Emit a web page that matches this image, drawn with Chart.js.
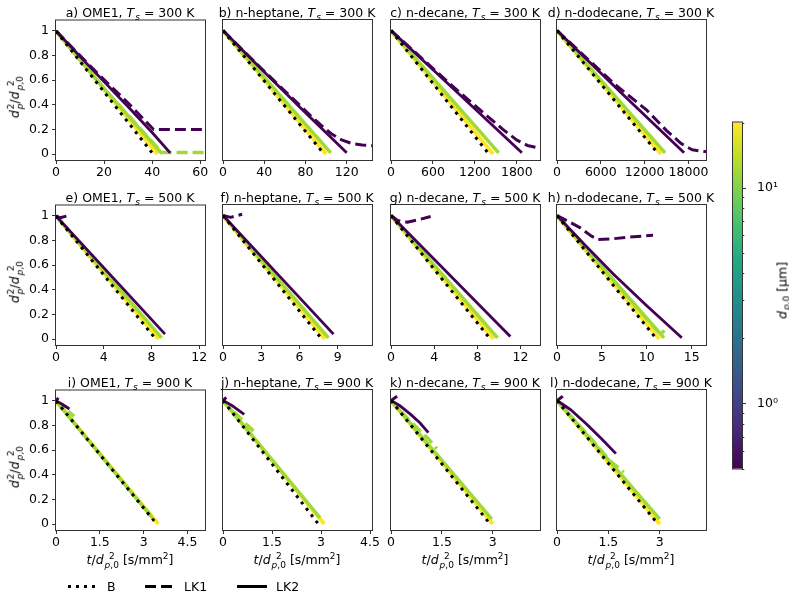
<!DOCTYPE html>
<html>
<head>
<meta charset="utf-8">
<script src="https://cdn.jsdelivr.net/npm/chart.js@4.4.1/dist/chart.umd.min.js"></script>
<style>
  body { margin: 0; background: #fff; width: 789px; height: 592px; position: relative; overflow: hidden;
         font-family: "DejaVu Sans", sans-serif; color: #000; }
  canvas { position: absolute; }
  .txt { position: absolute; font-size: 12.5px; line-height: 13px; white-space: nowrap; }
  .ctr { width: 240px; text-align: center; }
  .rot { transform-origin: center center; transform: rotate(-90deg); }
  .ss { display: inline-flex; flex-direction: column; font-size: 72%; line-height: 1.02; vertical-align: 0.5em; margin-left: 1px; }
  .sb1 { position: relative; top: 0.3em; font-size: 72%; margin-left: 1px; }
  .sp1 { position: relative; top: -0.45em; font-size: 72%; }
</style>
</head>
<body>
<script>
// ---- data ----
const panelLetters = ['a', 'b', 'c', 'd', 'e', 'f', 'g', 'h', 'i', 'j', 'k', 'l'];
const fuels = ['OME1', 'n-heptane', 'n-decane', 'n-dodecane'];
const surfaceTemps = [300, 500, 900];
const xMax = [62, 144.5, 2131, 20400, 12.48, 11.68, 13.8, 16.6, 5.1, 4.56, 4.39, 4.35];
const xTicks = [
  [0, 20, 40, 60], [0, 40, 80, 120], [0, 600, 1200, 1800], [0, 6000, 12000, 18000],
  [0, 4, 8, 12], [0, 3, 6, 9], [0, 4, 8, 12], [0, 5, 10, 15],
  [0, 1.5, 3, 4.5], [0, 1.5, 3, 4.5], [0, 1.5, 3], [0, 1.5, 3]
];
const yTicks = [0, 0.2, 0.4, 0.6, 0.8, 1];

// colour per initial diameter d_p,0 = 0.5, 10, 20 µm
const lineColors = ['#440154', '#a0da39', '#fde725'];

// colourbar
const cbarMin = 0.5;
const cbarMax = 20;
const cbarTicks = [0.5, 0.6, 0.7, 0.8, 0.9, 1, 2, 3, 4, 5, 6, 7, 8, 9, 10, 20];

// series: [t/d², d²/d0²]  -- _05 purple, _10 green, _20 yellow
// a) OME1, 300 K
const a_B = [[0, 1], [40.4, 0]];
const a_LK2_20 = [[0, 1], [42.2, 0]];
const a_LK2_10 = [[0, 1], [21, 0.51], [44, 0.005]];
const a_LK1_10 = [[0, 1], [21, 0.51], [44, 0.013], [62, 0.013]];
const a_LK2_05 = [[0, 1], [15, 0.69], [30, 0.385], [40, 0.175], [47.5, 0.01]];
const a_LK1_05 = [[0, 1], [15, 0.7], [30, 0.415], [40.6, 0.2], [62, 0.2]];
// b) n-heptane, 300 K
const b_B = [[0, 1], [98, 0]];
const b_LK2_20 = [[0, 1], [100, 0]];
const b_LK2_10 = [[0, 1], [104.5, 0.01]];
const b_LK1_10 = null;
const b_LK2_05 = [[0, 1], [40, 0.665], [80, 0.335], [120, 0.01]];
const b_LK1_05 = [[0, 1], [40, 0.67], [70, 0.43], [85, 0.31], [95, 0.235], [105, 0.165], [115, 0.115], [125, 0.085], [135, 0.073], [144.5, 0.068]];
// c) n-decane, 300 K
const c_B = [[0, 1], [1400, 0]];
const c_LK2_20 = [[0, 1], [1460, 0]];
const c_LK2_10 = [[0, 1], [1540, 0.01]];
const c_LK1_10 = null;
const c_LK2_05 = [[0, 1], [900, 0.525], [1872, 0.01]];
const c_LK1_05 = [[0, 1], [900, 0.54], [1278, 0.355], [1600, 0.2], [1800, 0.113], [1950, 0.07], [2131, 0.046]];
// d) n-dodecane, 300 K
const d_B = [[0, 1], [13900, 0]];
const d_LK2_20 = [[0, 1], [14250, 0]];
const d_LK2_10 = [[0, 1], [14800, 0.01]];
const d_LK1_10 = null;
const d_LK2_05 = [[0, 1], [8700, 0.5], [17400, 0.01]];
const d_LK1_05 = [[0, 1], [8000, 0.56], [12300, 0.355], [15000, 0.19], [17000, 0.085], [18500, 0.035], [20400, 0.019]];
// e) OME1, 500 K
const e_B = [[0, 1], [8.35, 0]];
const e_LK2_20 = [[0, 1], [8.6, 0]];
const e_LK2_10 = [[0, 1], [8.85, 0.01]];
const e_LK1_10 = null;
const e_LK2_05 = [[0, 1], [9.13, 0.04]];
const e_LK1_05 = [[0, 1], [0.35, 0.985], [0.9, 1.0]];
// f) n-heptane, 500 K
const f_B = [[0, 1], [7.75, 0]];
const f_LK2_20 = [[0, 1], [8.0, 0]];
const f_LK2_10 = [[0, 1], [8.27, 0.01]];
const f_LK1_10 = null;
const f_LK2_05 = [[0, 1], [8.66, 0.04]];
const f_LK1_05 = [[0, 1], [0.6, 0.985], [1.5, 1.01]];
// g) n-decane, 500 K
const g_B = [[0, 1], [9.2, 0]];
const g_LK2_20 = [[0, 1], [9.5, 0]];
const g_LK2_10 = [[0, 1], [9.87, 0.01]];
const g_LK1_10 = null;
const g_LK2_05 = [[0, 1], [11.05, 0.02]];
const g_LK1_05 = [[0, 1], [0.6, 0.96], [1.5, 0.946], [2.5, 0.965], [3.67, 0.992]];
// h) n-dodecane, 500 K
const h_B = [[0, 1], [11.1, 0]];
const h_LK2_20 = [[0, 1], [11.4, 0]];
const h_LK2_10 = [[0, 1], [11.92, 0.01]];
const h_LK1_10 = [[0, 1], [11.55, 0.035], [11.95, 0.07]];
const h_LK2_05 = [[0, 1], [3, 0.77], [6.3, 0.525], [10, 0.27], [13.9, 0.01]];
const h_LK1_05 = [[0, 1], [1.2, 0.955], [2.6, 0.9], [3.8, 0.835], [4.6, 0.805], [6, 0.81], [8, 0.825], [10.7, 0.84]];
// i) OME1, 900 K
const i_B = [[0, 1], [3.45, 0]];
const i_LK2_20 = [[0, 1], [3.5, 0]];
const i_LK2_10 = [[0, 1], [3.3, 0.05]];
const i_LK1_10 = [[0, 1], [0.62, 0.875]];
const i_LK2_05 = [[0, 1], [0.2, 0.975], [0.46, 0.935]];
const i_LK1_05 = [[0, 1], [0.08, 1.025]];
// j) n-heptane, 900 K
const j_B = [[0, 1], [2.92, 0]];
const j_LK2_20 = [[0, 1], [3.1, 0]];
const j_LK2_10 = [[0, 1], [2.97, 0.05]];
const j_LK1_10 = [[0, 1], [0.7, 0.81], [0.95, 0.75]];
const j_LK2_05 = [[0, 1], [0.3, 0.955], [0.65, 0.887]];
const j_LK1_05 = [[0, 1], [0.1, 1.025]];
// k) n-decane, 900 K
const k_B = [[0, 1], [2.92, 0]];
const k_LK2_20 = [[0, 1], [3.0, 0]];
const k_LK2_10 = [[0, 1], [2.97, 0.04]];
const k_LK1_10 = [[0, 1], [0.5, 0.85], [1.1, 0.69], [1.35, 0.61]];
const k_LK2_05 = [[0, 1], [0.25, 0.96], [0.57, 0.89], [0.85, 0.82], [1.1, 0.74]];
const k_LK1_05 = [[0, 1], [0.18, 1.035]];
// l) n-dodecane, 900 K
const l_B = [[0, 1], [2.95, 0]];
const l_LK2_20 = [[0, 1], [3.0, 0]];
const l_LK2_10 = [[0, 1], [3.0, 0.04]];
const l_LK1_10 = [[0, 1], [1.0, 0.69], [1.55, 0.51], [1.95, 0.42]];
const l_LK2_05 = [[0, 1], [0.4, 0.925], [0.86, 0.81], [1.3, 0.69], [1.72, 0.57]];
const l_LK1_05 = [[0, 1], [0.17, 1.035]];

// table per panel: [B, LK1 0.5, LK2 0.5, LK1 10, LK2 10, LK2 20]
const panelSeries = [
  [a_B, a_LK1_05, a_LK2_05, a_LK1_10, a_LK2_10, a_LK2_20],
  [b_B, b_LK1_05, b_LK2_05, b_LK1_10, b_LK2_10, b_LK2_20],
  [c_B, c_LK1_05, c_LK2_05, c_LK1_10, c_LK2_10, c_LK2_20],
  [d_B, d_LK1_05, d_LK2_05, d_LK1_10, d_LK2_10, d_LK2_20],
  [e_B, e_LK1_05, e_LK2_05, e_LK1_10, e_LK2_10, e_LK2_20],
  [f_B, f_LK1_05, f_LK2_05, f_LK1_10, f_LK2_10, f_LK2_20],
  [g_B, g_LK1_05, g_LK2_05, g_LK1_10, g_LK2_10, g_LK2_20],
  [h_B, h_LK1_05, h_LK2_05, h_LK1_10, h_LK2_10, h_LK2_20],
  [i_B, i_LK1_05, i_LK2_05, i_LK1_10, i_LK2_10, i_LK2_20],
  [j_B, j_LK1_05, j_LK2_05, j_LK1_10, j_LK2_10, j_LK2_20],
  [k_B, k_LK1_05, k_LK2_05, k_LK1_10, k_LK2_10, k_LK2_20],
  [l_B, l_LK1_05, l_LK2_05, l_LK1_10, l_LK2_10, l_LK2_20]
];

// ---- layout ----
const colFrame = [55, 222, 390, 556];
const rowFrame = [19, 204, 389];
const plotW = 149, plotH = 140;
const padL = 45, padT = 10, padR = 24, padB = 30;
const FONT = { family: 'DejaVu Sans', size: 12.5 };
const AXIS = '#333';

const framePlugin = {
  id: 'frame',
  afterDraw(chart) {
    const { ctx, chartArea: { left, top, right, bottom } } = chart;
    ctx.save();
    ctx.strokeStyle = AXIS;
    ctx.lineWidth = 1;
    ctx.strokeRect(left - 0.5, top - 0.5, right - left + 1, bottom - top + 1);
    ctx.restore();
  }
};

function pts(arr) { return arr.map(p => ({ x: p[0], y: p[1] })); }

function line(arr, color, width, dash, order) {
  return {
    data: pts(arr), borderColor: color, borderWidth: width, borderDash: dash,
    pointRadius: 0, fill: false, tension: 0, clip: 0, order: order,
    borderJoinStyle: 'round'
  };
}

function addHtml(cls, left, top, html) {
  const d = document.createElement('div');
  d.className = 'txt ' + cls;
  d.style.left = left + 'px';
  d.style.top = top + 'px';
  d.innerHTML = html;
  document.body.appendChild(d);
  return d;
}

const dp0 = '<span class="ss"><span>2</span><span><i>p</i>,0</span></span>';
const dp = '<span class="ss"><span>2</span><span><i>p</i></span></span>';

for (let idx = 0; idx < 12; idx++) {
  const col = idx % 4, row = Math.floor(idx / 4);
  const s = panelSeries[idx];
  const datasets = [];
  datasets.push(line(s[0], '#000', 3, [3, 5], 0));
  datasets.push(line(s[1], lineColors[0], 3, [11, 5], 1));
  datasets.push(line(s[2], lineColors[0], 2.8, [], 1));
  if (s[3]) datasets.push(line(s[3], lineColors[1], 3.5, [11, 5], 2));
  datasets.push(line(s[4], lineColors[1], 3.5, [], 2));
  datasets.push(line(s[5], lineColors[2], 4, [], 3));

  const cv = document.createElement('canvas');
  const w = padL + plotW + padR, h = padT + plotH + padB;
  cv.width = w; cv.height = h;
  cv.style.width = w + 'px'; cv.style.height = h + 'px';
  cv.style.left = (colFrame[col] - padL + 1) + 'px';
  cv.style.top = (rowFrame[row] - padT + 1) + 'px';
  document.body.appendChild(cv);

  new Chart(cv, {
    type: 'line',
    data: { datasets },
    options: {
      responsive: false, animation: false, events: [],
      layout: { padding: { left: 0, top: padT, right: padR, bottom: 0 } },
      plugins: { legend: { display: false }, tooltip: { enabled: false } },
      scales: {
        x: {
          type: 'linear', min: 0, max: xMax[idx],
          afterBuildTicks: sc => { sc.ticks = xTicks[idx].map(v => ({ value: v })); },
          afterFit: sc => { sc.height = padB; },
          ticks: { autoSkip: false, maxRotation: 0, padding: 1, color: '#000', font: FONT, callback: v => String(v) },
          grid: { drawOnChartArea: false, tickLength: 4, tickColor: AXIS },
          border: { display: false }
        },
        y: {
          type: 'linear', min: -0.048, max: 1.085,
          afterBuildTicks: sc => { sc.ticks = yTicks.map(v => ({ value: v })); },
          afterFit: sc => { sc.width = padL; },
          ticks: { display: col === 0, autoSkip: false, padding: 3, color: '#000', font: FONT, callback: v => String(v) },
          grid: { display: col === 0, drawOnChartArea: false, tickLength: 4, tickColor: AXIS },
          border: { display: false }
        }
      }
    },
    plugins: [framePlugin]
  });

  // panel title
  const cx = colFrame[col] + 75;
  addHtml('ctr', cx - 120, rowFrame[row] - 13,
    panelLetters[idx] + ') ' + fuels[col] + ', <i>T</i><span class="sb1"><i>s</i></span> = ' + surfaceTemps[row] + ' K');

  if (row === 2) {
    addHtml('ctr', cx - 120, 552, '<i>t</i>/<i>d</i>' + dp0 + ' [s/mm<span class="sp1">2</span>]');
  }
  if (col === 0) {
    addHtml('ctr rot', 16 - 120, rowFrame[row] + 76 - 7, '<i>d</i>' + dp + '/<i>d</i>' + dp0);
  }
}

// ---- colourbar ----
const viridis = ['#440154', '#482475', '#414487', '#355f8d', '#2a788e', '#21918c', '#22a884', '#44bf70', '#7ad151', '#bddf26', '#fde725'];
const cbPlugin = {
  id: 'cbar',
  beforeDatasetsDraw(chart) {
    const { ctx, chartArea: { left, top, right, bottom } } = chart;
    const g = ctx.createLinearGradient(0, bottom, 0, top);
    viridis.forEach((c, i) => g.addColorStop(i / (viridis.length - 1), c));
    ctx.save();
    ctx.fillStyle = g;
    ctx.fillRect(left, top, right - left, bottom - top);
    ctx.restore();
  },
  afterDraw(chart) {
    const { ctx, chartArea: { left, top, right, bottom } } = chart;
    const sc = chart.scales.y;
    ctx.save();
    ctx.strokeStyle = AXIS;
    ctx.lineWidth = 1;
    ctx.strokeRect(left - 0.5, top - 0.5, right - left + 1, bottom - top + 1);
    cbarTicks.forEach(v => {
      const y = Math.round(sc.getPixelForValue(v)) + 0.5;
      const len = (v === 1 || v === 10) ? 4 : 2.3;
      ctx.beginPath();
      ctx.moveTo(right, y);
      ctx.lineTo(right + len, y);
      ctx.stroke();
    });
    ctx.restore();
  }
};
const cb = document.createElement('canvas');
cb.width = 60; cb.height = 375;
cb.style.width = '60px'; cb.style.height = '375px';
cb.style.left = '723px'; cb.style.top = '108px';
document.body.appendChild(cb);
new Chart(cb, {
  type: 'scatter',
  data: { datasets: [{ data: [] }] },
  options: {
    responsive: false, animation: false, events: [],
    layout: { padding: { left: 10, top: 10, right: 0, bottom: 10 } },
    plugins: { legend: { display: false }, tooltip: { enabled: false } },
    scales: {
      x: { display: false, min: 0, max: 1 },
      y: {
        type: 'logarithmic', position: 'right', min: cbarMin, max: cbarMax,
        afterBuildTicks: sc => { sc.ticks = cbarTicks.map(v => ({ value: v })); },
        afterFit: sc => { sc.width = 41; },
        ticks: { autoSkip: false, padding: 7, color: '#000', font: FONT,
                 callback: v => (v === 10 ? '10\u00b9' : v === 1 ? '10\u2070' : '') },
        grid: { display: false },
        border: { display: false }
      }
    }
  },
  plugins: [cbPlugin]
});
addHtml('ctr rot', 783 - 120, 290 - 7, '<i>d</i><span class="sb1"><i>p</i>,0</span> [µm]');

// ---- legend ----
const legend = document.createElement('div');
legend.style.cssText = 'position:absolute;left:0;top:578px;width:400px;height:14px;';
legend.innerHTML =
  '<svg width="400" height="14" style="position:absolute;left:0;top:0">' +
  '<line x1="68" y1="8.5" x2="97" y2="8.5" stroke="#000" stroke-width="3" stroke-dasharray="3 5"/>' +
  '<line x1="145" y1="8.5" x2="173" y2="8.5" stroke="#000" stroke-width="3" stroke-dasharray="11 5"/>' +
  '<line x1="237" y1="8.5" x2="267" y2="8.5" stroke="#000" stroke-width="3"/>' +
  '</svg>';
document.body.appendChild(legend);
addHtml('', 107, 580, 'B');
addHtml('', 184, 580, 'LK1');
addHtml('', 276, 580, 'LK2');
</script>
</body>
</html>
